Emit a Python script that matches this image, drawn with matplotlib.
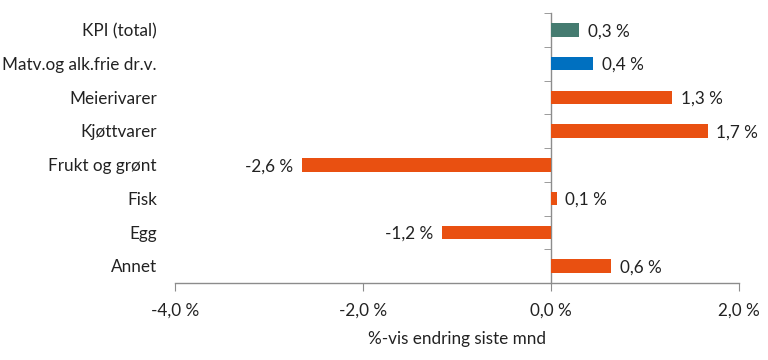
import matplotlib
matplotlib.use("Agg")
import matplotlib.pyplot as plt
import matplotlib.transforms as mtransforms
import numpy as np

categories = ["KPI (total)", "Matv.og alk.frie dr.v.", "Meierivarer", "Kjøttvarer",
              "Frukt og grønt", "Fisk", "Egg", "Annet"]
values = [0.30, 0.45, 1.29, 1.67, -2.65, 0.06, -1.16, 0.64]
value_labels = ["0,3 %", "0,4 %", "1,3 %", "1,7 %", "-2,6 %", "0,1 %", "-1,2 %", "0,6 %"]
colors = ["#457B70", "#0070C0", "#E95011", "#E95011", "#E95011", "#E95011", "#E95011", "#E95011"]
xticks = [-4.0, -2.0, 0.0, 2.0]
xtick_labels = ["-4,0 %", "-2,0 %", "0,0 %", "2,0 %"]
xlabel = "%-vis endring siste mnd"

FS = 12.3
plt.rcParams['font.family'] = ['Lato', 'DejaVu Sans']
fig = plt.figure(figsize=(7.68, 3.6), dpi=100)
ax = fig.add_axes([175/768, 1-283/360, (739-175)/768, (283-13)/360])

y = np.arange(len(categories))
ax.barh(y, values, height=0.4, color=colors, zorder=3)
ax.set_ylim(len(categories)-0.5, -0.5)
ax.set_xlim(-4, 2)

for s in ["top", "right"]:
    ax.spines[s].set_visible(False)
ax.spines["left"].set_position(("data", 0))
for s in ["left", "bottom"]:
    ax.spines[s].set_color("#8C8C8C")
    ax.spines[s].set_linewidth(1.0)

ax.set_yticks(y)
ax.set_yticklabels([])
ax.tick_params(axis="y", which="major", length=0)
ax.set_yticks(np.arange(-0.5, len(categories), 1.0), minor=True)
ax.tick_params(axis="y", which="minor", length=5, color="#8C8C8C", direction="out")

ax.set_xticks(xticks)
ax.set_xticklabels(xtick_labels, fontsize=FS, color="#222222")
ax.tick_params(axis="x", length=6, color="#8C8C8C", pad=8)
ax.set_xlabel(xlabel, fontsize=FS, color="#222222", labelpad=9)

trans = mtransforms.blended_transform_factory(ax.transAxes, ax.transData)
for yi, c in zip(y, categories):
    ax.text(-18/564, yi + 0.04, c, transform=trans, ha="right", va="center", fontsize=FS, color="#222222")

for yi, v, lab in zip(y, values, value_labels):
    off = 0.09 if v >= 0 else -0.09
    ax.text(v + off, yi + 0.04, lab, ha="left" if v >= 0 else "right", va="center",
            fontsize=FS, color="#222222")

fig.savefig("out.png", dpi=100)
